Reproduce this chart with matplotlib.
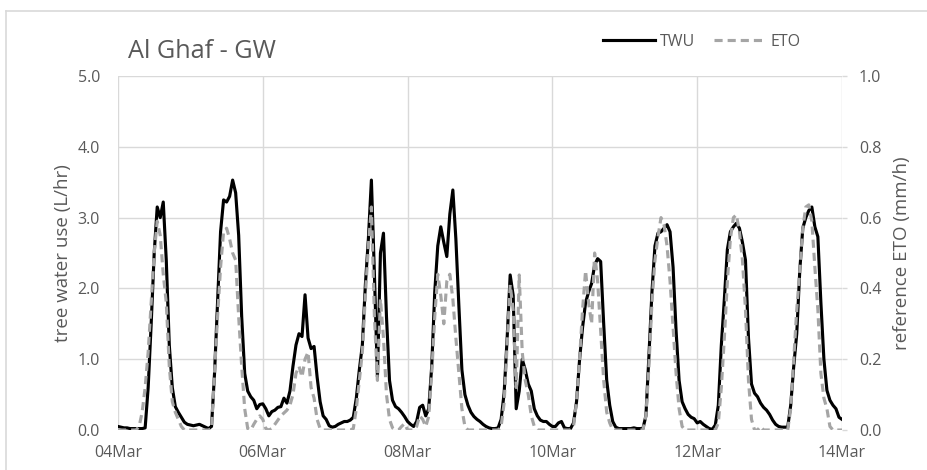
import matplotlib
matplotlib.use("Agg")
import matplotlib.pyplot as plt
import matplotlib.dates as mdates
from matplotlib.lines import Line2D
import pandas as pd

plt.rcParams['font.family'] = ['Open Sans', 'DejaVu Sans']

# hourly readings, 04Mar 00:00 to 14Mar 00:00 (one row per day)
start = '2020-03-04 00:00'
twu = [
    0.05, 0.04, 0.03, 0.03, 0.02, 0.02, 0.02, 0.02, 0.02, 0.03, 0.6, 1.5, 2.5, 3.15, 3.0, 3.22, 2.4, 1.2, 0.6, 0.33, 0.25, 0.18, 0.11, 0.08,
    0.07, 0.06, 0.07, 0.08, 0.06, 0.04, 0.02, 0.05, 0.8, 1.8, 2.8, 3.25, 3.22, 3.3, 3.53, 3.35, 2.75, 1.6, 0.8, 0.55, 0.47, 0.42, 0.3, 0.36,
    0.37, 0.3, 0.2, 0.26, 0.28, 0.32, 0.33, 0.45, 0.38, 0.55, 0.9, 1.2, 1.36, 1.32, 1.91, 1.3, 1.15, 1.18, 0.75, 0.4, 0.2, 0.15, 0.06, 0.04,
    0.05, 0.08, 0.1, 0.12, 0.12, 0.14, 0.18, 0.45, 0.85, 1.2, 2.05, 2.7, 3.53, 2.2, 0.75, 2.5, 2.78, 1.6, 0.7, 0.42, 0.33, 0.3, 0.25, 0.19,
    0.12, 0.08, 0.05, 0.12, 0.32, 0.35, 0.2, 0.3, 0.9, 1.95, 2.6, 2.87, 2.65, 2.45, 3.05, 3.39, 2.7, 1.75, 0.85, 0.5, 0.35, 0.25, 0.19, 0.15,
    0.12, 0.08, 0.05, 0.03, 0.02, 0.02, 0.03, 0.15, 0.52, 1.3, 2.19, 1.9, 0.3, 0.55, 1.0, 0.85, 0.65, 0.55, 0.3, 0.2, 0.14, 0.12, 0.12, 0.08,
    0.05, 0.05, 0.1, 0.12, 0.03, 0.02, 0.02, 0.1, 0.4, 0.99, 1.45, 1.8, 1.95, 2.07, 2.33, 2.42, 2.38, 1.5, 0.7, 0.35, 0.12, 0.04, 0.02, 0.02,
    0.02, 0.02, 0.02, 0.03, 0.02, 0.02, 0.02, 0.2, 1.05, 1.95, 2.6, 2.78, 2.8, 2.85, 2.9, 2.8, 2.3, 1.4, 0.7, 0.4, 0.3, 0.22, 0.18, 0.16,
    0.1, 0.12, 0.08, 0.05, 0.02, 0.01, 0.07, 0.35, 1.2, 1.85, 2.55, 2.8, 2.87, 2.92, 2.85, 2.65, 2.4, 1.3, 0.65, 0.52, 0.47, 0.38, 0.32, 0.28,
    0.22, 0.14, 0.08, 0.05, 0.04, 0.04, 0.04, 0.35, 0.9, 1.36, 2.25, 2.85, 3.0, 3.1, 3.15, 2.87, 2.73, 1.8, 1.0, 0.56, 0.42, 0.35, 0.3, 0.18,
    0.15,
]
eto = [
    0, 0, 0, 0, 0, 0, 0, 0.01, 0.05, 0.12, 0.22, 0.36, 0.5, 0.59, 0.55, 0.44, 0.36, 0.18, 0.08, 0.05, 0.03, 0.01, 0, 0,
    0, 0, 0, 0, 0, 0, 0, 0.004, 0.16, 0.32, 0.46, 0.56, 0.57, 0.54, 0.5, 0.48, 0.32, 0.18, 0.06, 0.004, 0, 0.016, 0.03, 0.04,
    0.03, 0.004, 0, 0.004, 0.016, 0.028, 0.04, 0.048, 0.056, 0.07, 0.1, 0.16, 0.18, 0.15, 0.2, 0.22, 0.12, 0.09, 0.03, 0.004, 0, 0, 0, 0,
    0, 0, 0, 0, 0, 0, 0.004, 0.06, 0.14, 0.22, 0.38, 0.52, 0.63, 0.32, 0.14, 0.37, 0.26, 0.1, 0.03, 0.006, 0, 0, 0.01, 0.018,
    0, 0, 0, 0.01, 0.04, 0.03, 0.01, 0.038, 0.16, 0.32, 0.44, 0.38, 0.3, 0.42, 0.44, 0.37, 0.26, 0.16, 0.06, 0.01, 0, 0, 0, 0,
    0, 0, 0, 0, 0, 0, 0, 0.01, 0.076, 0.24, 0.41, 0.34, 0.12, 0.438, 0.22, 0.14, 0.1, 0.04, 0.01, 0, 0, 0, 0, 0,
    0, 0, 0, 0, 0, 0, 0, 0.01, 0.08, 0.2, 0.34, 0.45, 0.36, 0.3, 0.5, 0.42, 0.28, 0.14, 0.05, 0.02, 0, 0, 0, 0,
    0, 0, 0, 0, 0, 0, 0, 0.04, 0.18, 0.36, 0.48, 0.546, 0.6, 0.58, 0.52, 0.42, 0.292, 0.16, 0.06, 0.01, 0, 0, 0, 0,
    0, 0, 0, 0, 0, 0, 0, 0.02, 0.12, 0.26, 0.42, 0.54, 0.6, 0.608, 0.56, 0.48, 0.34, 0.14, 0.03, 0, 0, 0.01, 0, 0,
    0, 0, 0, 0, 0, 0, 0, 0.06, 0.2, 0.34, 0.45, 0.57, 0.63, 0.636, 0.59, 0.46, 0.34, 0.16, 0.09, 0.06, 0.01, 0, 0, 0,
    0,
]
left_ticks = [0.0, 1.0, 2.0, 3.0, 4.0, 5.0]
right_ticks = [0.0, 0.2, 0.4, 0.6, 0.8, 1.0]

times = pd.date_range(start, periods=len(twu), freq='h')
date_ticks = pd.date_range(times[0], times[-1], freq='2D')

txt = '#595959'
grid = '#D9D9D9'
fs = 11.5  # tick / legend font size

fig = plt.figure(figsize=(9.28, 4.70), dpi=100)
ax = fig.add_axes([118 / 928, 1 - 430 / 470, 724 / 928, 354 / 470])
ax2 = ax.twinx()

ax.plot(times, twu, color='black', lw=2.25, label='TWU', solid_joinstyle='round')
ax2.plot(times, eto, color='#A5A5A5', lw=2.25, linestyle=(0, (2.6, 1.6)), label='ETO')

ax.set_xlim(times[0], times[-1])
ax.set_ylim(0, 5)
ax2.set_ylim(0, 1)
ax.set_yticks(left_ticks)
ax2.set_yticks(right_ticks)
ax.yaxis.set_major_formatter(plt.FormatStrFormatter('%.1f'))
ax2.yaxis.set_major_formatter(plt.FormatStrFormatter('%.1f'))
ax.set_xticks(date_ticks)
ax.xaxis.set_major_formatter(mdates.DateFormatter('%d%b'))

ax.grid(True, color=grid, lw=1.0)
for a in (ax, ax2):
    for s in a.spines.values():
        s.set_visible(False)
ax.tick_params(axis='both', length=0, labelsize=fs, labelcolor=txt)
ax.tick_params(axis='y', pad=13)
ax.tick_params(axis='x', pad=10.5)
ax2.tick_params(axis='y', length=3.6, width=1, color=grid, labelsize=fs, labelcolor=txt, pad=8.6)

ax.set_ylabel('tree water use (L/hr)', fontsize=13.5, color=txt)
ax2.set_ylabel('reference ETO (mm/h)', fontsize=13.5, color=txt)
ax.yaxis.set_label_coords(-0.064, 0.5)
ax2.yaxis.set_label_coords(1.071, 0.5)

fig.text(128 / 928, 1 - 52 / 470, 'Al Ghaf - GW', fontsize=18.2, color=txt, va='center', ha='left')

handles = ax.get_lines() + ax2.get_lines()
fig.legend(handles, [h.get_label() for h in handles], loc='center', bbox_to_anchor=(702 / 928, 1 - 42 / 470),
           ncol=2, frameon=False, fontsize=fs, labelcolor=txt, handlelength=3.26, handletextpad=0.3,
           columnspacing=1.17)

# chart area border (top and left edges)
fig.add_artist(Line2D([6 / 928, 1], [1 - 11 / 470] * 2, color=grid, lw=1.2))
fig.add_artist(Line2D([6 / 928] * 2, [0, 1 - 11 / 470], color=grid, lw=1.2))

fig.savefig('out.png', dpi=100)
